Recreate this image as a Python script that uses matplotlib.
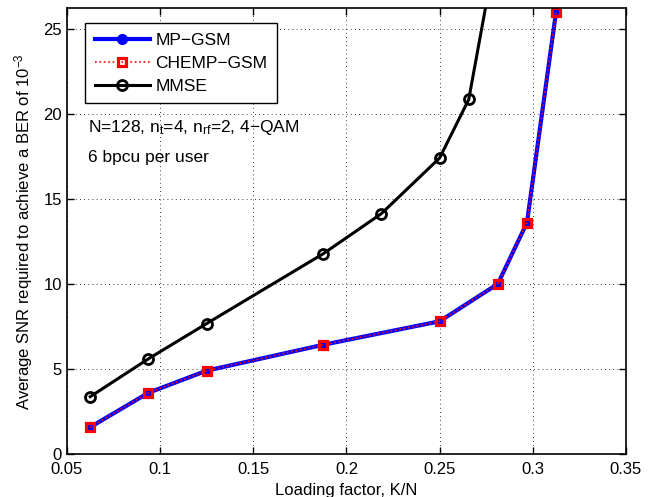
import numpy as np
import matplotlib
matplotlib.use('Agg')
import matplotlib.pyplot as plt

plt.rcParams['font.family'] = ['Liberation Sans', 'DejaVu Sans']
plt.rcParams['mathtext.fontset'] = 'custom'
plt.rcParams['mathtext.rm'] = 'Liberation Sans'
plt.rcParams['mathtext.it'] = 'Liberation Sans'

# loading factor K/N
x_gsm = [0.0625, 0.09375, 0.125, 0.1875, 0.25, 0.28125, 0.296875, 0.3125]
mp_gsm = [1.58, 3.6, 4.9, 6.42, 7.8, 10.0, 13.6, 26.0]
chemp_gsm = [1.58, 3.6, 4.9, 6.42, 7.8, 10.0, 13.6, 26.0]

x_mmse = [0.0625, 0.09375, 0.125, 0.1875, 0.21875, 0.25, 0.265625, 0.28125]
mmse = [3.37, 5.6, 7.67, 11.77, 14.13, 17.4, 20.84, 30.2]

xticks = [0.05, 0.1, 0.15, 0.2, 0.25, 0.3, 0.35]
yticks = [0, 5, 10, 15, 20, 25]

fig = plt.figure(figsize=(6.54, 4.97), dpi=100)
ax = fig.add_axes([0.1024, 0.0865, 0.8547, 0.8968])

ax.plot(x_gsm, mp_gsm, color='blue', ls='-', lw=3, marker='o', ms=7,
        mfc='blue', mec='blue', label='MP\u2212GSM')
ax.plot(x_gsm, chemp_gsm, color='red', ls=':', lw=1.2, marker='s', ms=5.5,
        mfc='none', mec='red', mew=2.3, label='CHEMP\u2212GSM')
ax.plot(x_mmse, mmse, color='black', ls='-', lw=2.2, marker='o', ms=7.2,
        mfc='none', mec='black', mew=2, label='MMSE')

ax.set_xlim(0.05, 0.35)
ax.set_ylim(0, 26.2)
ax.set_xticks(xticks)
ax.set_xticklabels(['0.05', '0.1', '0.15', '0.2', '0.25', '0.3', '0.35'])
ax.set_yticks(yticks)
ax.tick_params(direction='in', top=True, right=True, labelsize=12, length=5, width=1)
ax.tick_params(axis='x', pad=6)
ax.grid(True, ls=(0, (1, 4)), color='black', lw=0.6)
for s in ax.spines.values():
    s.set_linewidth(1.2)

ax.set_xlabel('Loading factor, K/N', fontsize=12, labelpad=4)
ax.set_ylabel('Average SNR required to achieve a BER of $10^{-3}$', fontsize=12, labelpad=6)

ax.text(0.0615, 18.95, 'N=128, n$_{\\mathrm{t}}$=4, n$_{\\mathrm{rf}}$=2, 4\u2212QAM',
        fontsize=12.5, va='baseline')
ax.text(0.0615, 17.18, '6 bpcu per user', fontsize=12.5, va='baseline')

leg = ax.legend(loc='upper left', bbox_to_anchor=(0.0322, 0.967), fontsize=12.5,
                fancybox=False, framealpha=1, edgecolor='black',
                handlelength=3.2, handletextpad=0.3, borderpad=0.55,
                labelspacing=0.45, borderaxespad=0)
leg.get_frame().set_linewidth(1)

fig.savefig('out.png', dpi=100)
